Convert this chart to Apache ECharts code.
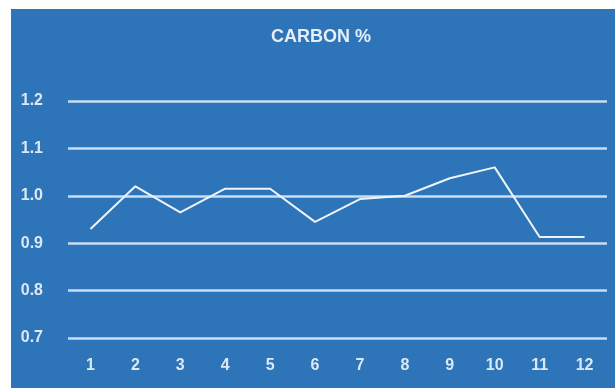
<!DOCTYPE html>
<html>
<head>
<meta charset="utf-8">
<script src="https://cdn.jsdelivr.net/npm/echarts@6/dist/echarts.min.js"></script>
<style>
html,body{margin:0;padding:0;background:#fff;}
#c{width:615px;height:388px;}
</style>
</head>
<body>
<div id="c"></div>
<script>
var categories = ['1','2','3','4','5','6','7','8','9','10','11','12'];
var carbon = [0.93, 1.02, 0.965, 1.015, 1.015, 0.945, 0.993, 1.0, 1.037, 1.06, 0.913, 0.913];
var titleText = 'CARBON %';

var chart = echarts.init(document.getElementById('c'));
chart.setOption({
  backgroundColor: '#ffffff',
  animation: false,
  graphic: [{
    type: 'rect', z: -10, left: 11, top: 9,
    shape: {width: 604, height: 379},
    style: {fill: '#2E74B8'}
  }],
  title: {
    text: titleText, left: 316, top: 23, textAlign: 'center',
    textStyle: {color: '#e6eef8', fontSize: 18, fontWeight: 'bold', fontFamily: 'Liberation Sans, sans-serif'}
  },
  grid: {left: 68, right: 8, top: 101, bottom: 50},
  xAxis: {
    type: 'category', data: categories, boundaryGap: true,
    axisLine: {show: false}, axisTick: {show: false},
    axisLabel: {color: '#dce8f5', fontSize: 16, fontWeight: 'bold', margin: 20, fontFamily: 'Liberation Sans, sans-serif'}
  },
  yAxis: {
    type: 'value', min: 0.7, max: 1.2, interval: 0.1,
    axisLine: {show: false}, axisTick: {show: false},
    axisLabel: {color: '#dce8f5', fontSize: 16, fontWeight: 'bold', margin: 25, fontFamily: 'Liberation Sans, sans-serif',
      formatter: function(v){ return v.toFixed(1); }},
    splitLine: {lineStyle: {color: '#c9dcf0', width: 2.5}}
  },
  series: [{
    type: 'line', data: carbon, symbol: 'none',
    lineStyle: {color: '#eef4fb', width: 2}
  }]
});
</script>
</body>
</html>
